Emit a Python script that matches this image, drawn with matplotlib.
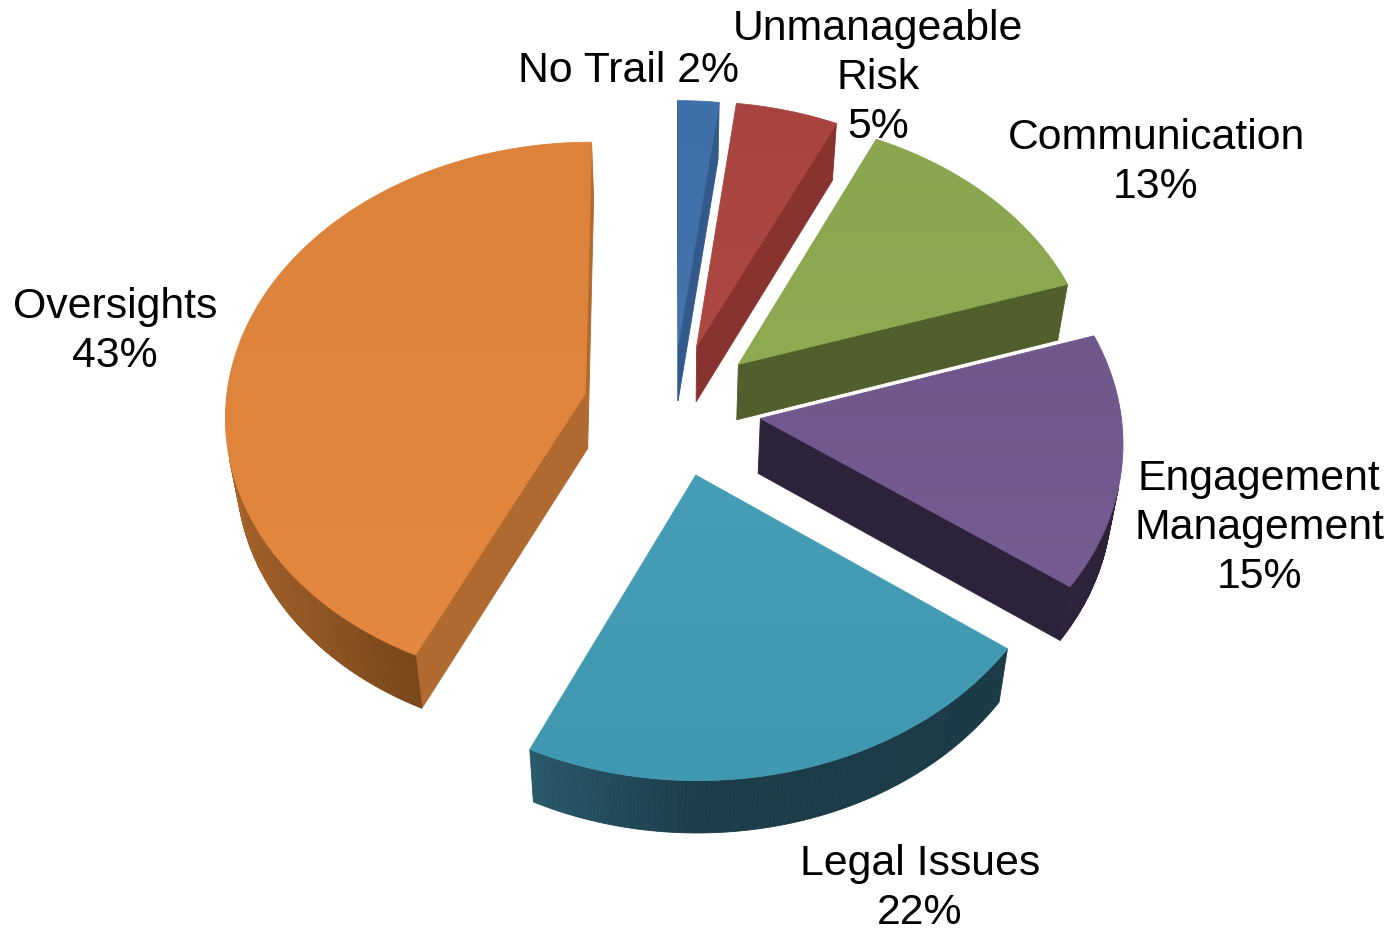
import numpy as np
import matplotlib
matplotlib.use("Agg")
import matplotlib.pyplot as plt
from matplotlib.colors import to_rgb, LinearSegmentedColormap
from matplotlib.patches import Polygon

plt.rcParams["font.family"] = ["Liberation Sans", "DejaVu Sans"]

# Share of each category, clockwise from twelve o'clock
categories = ["No Trail", "Unmanageable\nRisk", "Communication",
              "Engagement\nManagement", "Legal Issues", "Oversights"]
shares = [2, 5, 13, 15, 22, 43]

explode = [0.235, 0.24, 0.245, 0.245, 0.25, 0.25]
top_colors = [("#3F6FA8", "#4474AE"), ("#A8443F", "#AD4843"), ("#89A64E", "#8EAB52"),
              ("#6F578C", "#755C92"), ("#459EB6", "#3F98B0"), ("#DC823A", "#E4873F")]
cut_colors = ["#33598A", "#88332F", "#505F2B", "#2C2239", "#1B3C49", "#B0692F"]
# Rim shade as (angle, colour) stops; the light falls off toward the front
rim_stops = [[(0, "#2C4A70"), (360, "#2C4A70")],
             [(0, "#6E2A28"), (360, "#6E2A28")],
             [(0, "#414E23"), (360, "#414E23")],
             [(0, "#2C2239"), (360, "#2C2239")],
             [(126, "#1A3A46"), (180, "#1B3C49"), (205.2, "#28596B")],
             [(205.2, "#774619"), (225, "#8F5523"), (255, "#A8642B"), (360, "#A8642B")]]
label_pos = [(628, 71), (878, 78), (1156, 162.5), (1259, 528), (920, 888.5), (115, 331.5)]

CX, CY = 673, 409       # pie centre in pixels
RX, RY = 360, 272       # semi-axes of the unit disc
PERSP = 0.075           # foreshortening toward the back of the pie
DEPTH = 55              # extrusion in pixels
SHRINK_X = 0.975        # lower rim narrows slightly
SHRINK_Y = 0.993


def project(x, y, lower=False):
    w = 1 + PERSP * y
    sx = SHRINK_X if lower else 1.0
    sy = SHRINK_Y if lower else 1.0
    return np.column_stack([CX + sx * RX * x / w,
                            CY + (DEPTH if lower else 0) - sy * RY * y / w])


def shaded(stops, theta):
    angles = [a for a, _ in stops]
    rgb = np.array([to_rgb(c) for _, c in stops])
    return tuple(np.interp(theta, angles, rgb[:, i]) for i in range(3))


fig = plt.figure(figsize=(13.91, 9.29), dpi=100)
ax = fig.add_axes([0, 0, 1, 1])
ax.set_xlim(0, 1391)
ax.set_ylim(929, 0)
ax.axis("off")

edges = np.cumsum([0] + shares) / sum(shares) * 360.0
for i, share in enumerate(shares):
    t1, t2 = edges[i], edges[i + 1]
    mid = np.radians((t1 + t2) / 2)
    ox, oy = explode[i] * np.sin(mid), explode[i] * np.cos(mid)
    thetas = np.linspace(t1, t2, max(8, int((t2 - t1) * 2)))
    rad = np.radians(thetas)
    xs = np.r_[ox, ox + np.sin(rad)]
    ys = np.r_[oy, oy + np.cos(rad)]
    top = project(xs, ys)
    low = project(xs, ys, lower=True)
    n = len(top)
    for j in range(n):
        k = (j + 1) % n
        d = top[k] - top[j]
        outward = np.array([d[1], -d[0]])
        v = (low[j] + low[k] - top[j] - top[k]) / 2
        if v @ outward <= 0:
            continue
        if j == 0 or k == 0:
            col = cut_colors[i]
        else:
            col = shaded(rim_stops[i], (thetas[j - 1] + thetas[k - 1]) / 2)
        ax.add_patch(Polygon([top[j], top[k], low[k], low[j]], closed=True,
                             facecolor=col, edgecolor=col, linewidth=0.6, zorder=2))

    # Top face with a faint linear sheen, clipped to the wedge outline
    face = Polygon(top, closed=True, facecolor="none", edgecolor="none", zorder=3)
    ax.add_patch(face)
    cmap = LinearSegmentedColormap.from_list(f"face{i}", top_colors[i])
    img = ax.imshow(np.linspace(0, 1, 64).reshape(-1, 1), cmap=cmap, aspect="auto",
                    extent=(top[:, 0].min(), top[:, 0].max(), top[:, 1].max(), top[:, 1].min()),
                    zorder=3, interpolation="bilinear")
    img.set_clip_path(face)
    ax.add_patch(Polygon(top, closed=True, facecolor="none",
                         edgecolor=top_colors[i][0], linewidth=0.6, zorder=3))

    ax.text(*label_pos[i],
            f"{categories[i]}\n{share}%" if i else f"{categories[i]} {share}%",
            ha="center", va="center", fontsize=30.8, color="black",
            linespacing=1.285, zorder=4)

ax.set_xlim(0, 1391)
ax.set_ylim(929, 0)
fig.savefig("out.png", dpi=100, facecolor="white")
